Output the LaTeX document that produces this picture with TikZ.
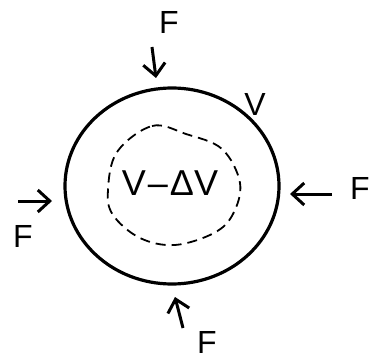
\documentclass[tikz,border=0pt]{standalone}
\usepackage{fontspec}
\setmainfont{Liberation Sans}
\usetikzlibrary{arrows.meta}
\begin{document}
\begin{tikzpicture}[x=0.5pt,y=-0.5pt]
        \useasboundingbox (0,0) rectangle (380,358);
        \tikzset{force/.style={-{Straight Barb[length=6pt,width=11pt]}, line width=1.5pt},
                 lettre/.style={font=\fontsize{16}{16}\selectfont}}

        % Le corps de volume V
        \draw[line width=1.6pt] (172,186) ellipse (107 and 98);
        \node[lettre] (V) at (255,104) {V};

        % Volume comprime
        \draw[line width=0.9pt, dash pattern=on 5pt off 3pt] plot[smooth cycle, tension=0.6] coordinates {(117,152) (152,126) (186,134) (222,149) (240,183) (233,214) (214,233) (175,245) (140,238) (113,215) (108,190)};
        \node[font=\fontsize{18}{18}\selectfont] (dV) at (170,183) {V\kern1pt–\kern1ptΔV};

        % Forces
        \coordinate (h0) at (152,47);  \coordinate (h1) at (156,78);
        \coordinate (g0) at (18,201);  \coordinate (g1) at (52,201);
        \coordinate (d0) at (332,194); \coordinate (d1) at (290,194);
        \coordinate (b0) at (183,328); \coordinate (b1) at (175,297);
        \draw[force] (h0) -- (h1);
        \draw[force] (g0) -- (g1);
        \draw[force] (d0) -- (d1);
        \draw[force] (b0) -- (b1);
        \node[lettre] (Fh) at (169,22) {F};
        \node[lettre] (Fg) at (23,236) {F};
        \node[lettre] (Fd) at (360,188) {F};
        \node[lettre] (Fb) at (207,342) {F};
    \end{tikzpicture}
\end{document}
